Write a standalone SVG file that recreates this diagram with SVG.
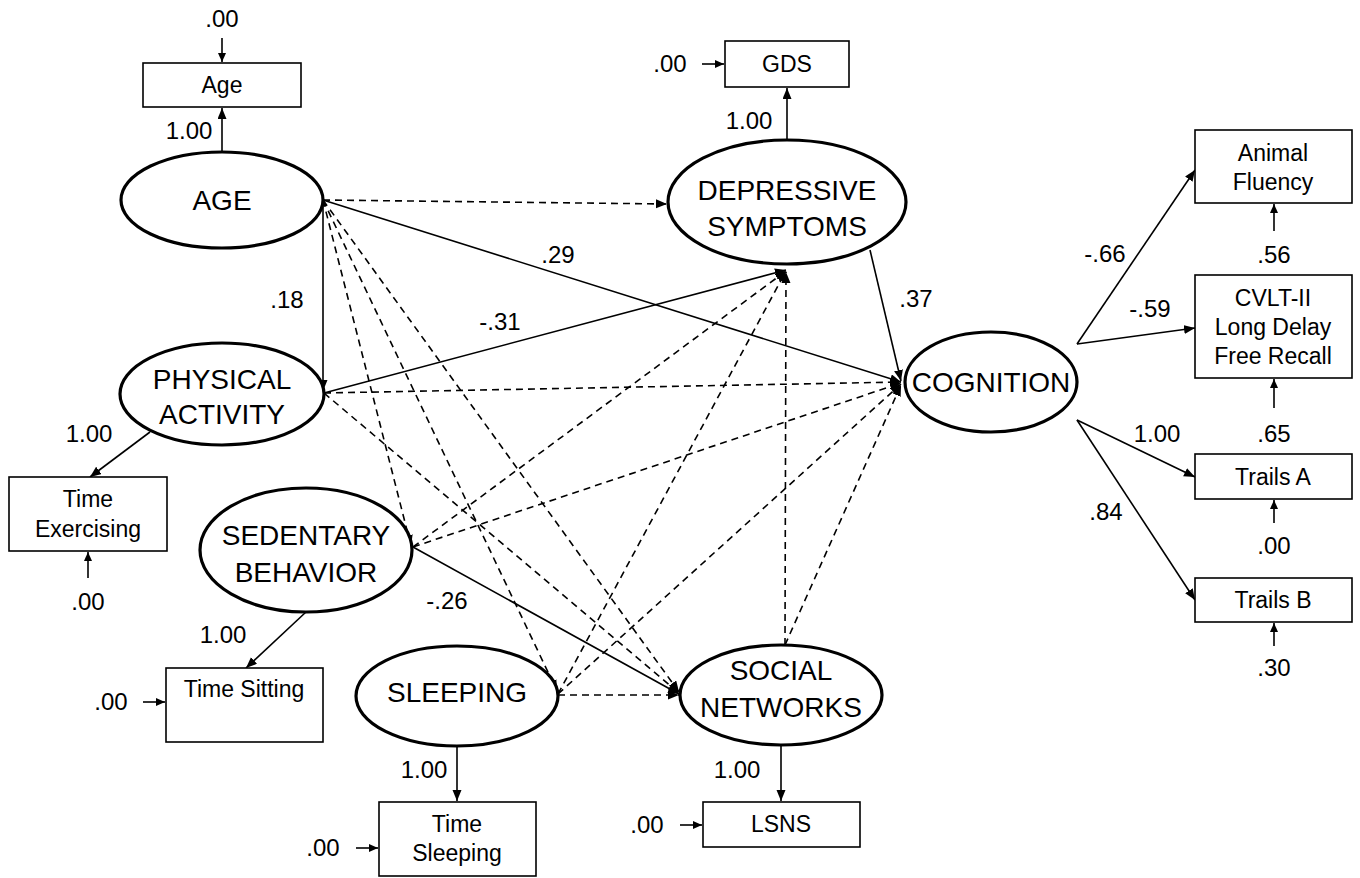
<svg xmlns="http://www.w3.org/2000/svg" width="1360" height="878" viewBox="0 0 1360 878">
<defs>
<marker id="ah" markerUnits="userSpaceOnUse" markerWidth="12" markerHeight="10" refX="11" refY="4.5" orient="auto">
<path d="M0,0 L11,4.5 L0,9 z" fill="#000"/>
</marker>
<marker id="ahs" markerUnits="userSpaceOnUse" markerWidth="10" markerHeight="8" refX="9" refY="4" orient="auto">
<path d="M0,0 L9,4 L0,8 z" fill="#000"/>
</marker>
<style>
text{font-family:"Liberation Sans",Arial,sans-serif;fill:#000;text-anchor:middle}
.lat{font-size:28px}
.box{font-size:23px}
.num{font-size:24px}
ellipse{fill:#fff;stroke:#000;stroke-width:3.2}
rect{fill:#fff;stroke:#000;stroke-width:1.6}
.s{stroke:#000;stroke-width:1.6;fill:none;marker-end:url(#ah)}
.d{stroke:#000;stroke-width:1.6;fill:none;stroke-dasharray:7 5;marker-end:url(#ah)}
.e{stroke:#000;stroke-width:1.6;fill:none;marker-end:url(#ahs)}
</style>
</defs>
<rect x="0" y="0" width="1360" height="878" style="fill:#fff;stroke:none"/>

<g id="connectors">
<!-- structural paths -->
<line class="d" x1="323" y1="200" x2="667" y2="204"/>
<line class="s" x1="323" y1="200" x2="901" y2="382"/>
<line class="s" x1="323" y1="200" x2="323" y2="391"/>
<line class="d" x1="323" y1="200" x2="411" y2="546"/>
<line class="d" x1="323" y1="200" x2="557" y2="691"/>
<line class="d" x1="323" y1="200" x2="679" y2="692"/>
<line class="s" x1="324" y1="393" x2="786" y2="270"/>
<line class="d" x1="324" y1="393" x2="901" y2="382"/>
<line class="d" x1="324" y1="393" x2="679" y2="693"/>
<line class="d" x1="413" y1="547" x2="786" y2="271"/>
<line class="d" x1="413" y1="547" x2="901" y2="383"/>
<line class="s" x1="413" y1="547" x2="679" y2="694"/>
<line class="d" x1="558" y1="694" x2="786" y2="271"/>
<line class="d" x1="558" y1="694" x2="901" y2="384"/>
<line class="d" x1="558" y1="695" x2="679" y2="695"/>
<line class="d" x1="785" y1="645" x2="786" y2="272"/>
<line class="d" x1="785" y1="645" x2="901" y2="385"/>
<line class="s" x1="870" y1="250" x2="901" y2="381"/>
<!-- measurement paths -->
<line class="s" x1="222" y1="152" x2="222" y2="108"/>
<line class="e" x1="222" y1="38" x2="222" y2="62"/>
<line class="s" x1="787" y1="140" x2="787" y2="88"/>
<line class="e" x1="702" y1="64" x2="724" y2="64"/>
<line class="s" x1="1077" y1="344" x2="1195" y2="170"/>
<line class="s" x1="1077" y1="344" x2="1195" y2="328"/>
<line class="s" x1="1077" y1="420" x2="1195" y2="477"/>
<line class="s" x1="1077" y1="420" x2="1195" y2="600"/>
<line class="e" x1="1274" y1="231" x2="1274" y2="204"/>
<line class="e" x1="1274" y1="408" x2="1274" y2="379"/>
<line class="e" x1="1274" y1="523" x2="1274" y2="500"/>
<line class="e" x1="1274" y1="646" x2="1274" y2="623"/>
<line class="s" x1="150" y1="432" x2="90" y2="477"/>
<line class="e" x1="88" y1="578" x2="88" y2="552"/>
<line class="s" x1="306" y1="612" x2="246" y2="668"/>
<line class="e" x1="143" y1="702" x2="165" y2="702"/>
<line class="s" x1="457" y1="747" x2="457" y2="801"/>
<line class="e" x1="356" y1="848" x2="378" y2="848"/>
<line class="s" x1="781" y1="746" x2="781" y2="801"/>
<line class="e" x1="680" y1="825" x2="702" y2="825"/>
</g>

<g id="labels">
<text class="num" x="287" y="308">.18</text>
<text class="num" x="558" y="263">.29</text>
<text class="num" x="500" y="330">-.31</text>
<text class="num" x="447" y="609">-.26</text>
<text class="num" x="916" y="307">.37</text>
<text class="num" x="1105" y="262">-.66</text>
<text class="num" x="1150" y="317">-.59</text>
<text class="num" x="1157" y="442">1.00</text>
<text class="num" x="1106" y="520">.84</text>
</g>

<g id="age-ind">
<text class="num" x="222" y="27">.00</text>
<rect x="143" y="63" width="158" height="44"/>
<text class="box" x="222" y="93">Age</text>
<text class="num" x="189" y="139">1.00</text>
</g>
<g id="AGE">
<ellipse cx="222" cy="200" rx="101" ry="48"/>
<text class="lat" x="222" y="210">AGE</text>
</g>

<g id="gds">
<text class="num" x="670" y="72">.00</text>
<rect x="725" y="41" width="124" height="46"/>
<text class="box" x="787" y="72">GDS</text>
<text class="num" x="749" y="129">1.00</text>
</g>
<g id="DEP">
<ellipse cx="787" cy="202" rx="119" ry="62"/>
<text class="lat" x="787" y="200">DEPRESSIVE</text>
<text class="lat" x="787" y="236">SYMPTOMS</text>
</g>

<g id="COG">
<ellipse cx="991" cy="382" rx="86" ry="50"/>
<text class="lat" x="991" y="392">COGNITION</text>
</g>

<g id="animal">
<rect x="1195" y="130" width="157" height="73"/>
<text class="box" x="1273" y="161">Animal</text>
<text class="box" x="1273" y="190">Fluency</text>
<text class="num" x="1274" y="263">.56</text>
</g>
<g id="cvlt">
<rect x="1195" y="275" width="157" height="103"/>
<text class="box" x="1273" y="306">CVLT-II</text>
<text class="box" x="1273" y="335">Long Delay</text>
<text class="box" x="1273" y="364">Free Recall</text>
<text class="num" x="1274" y="442">.65</text>
</g>
<g id="trailsA">
<rect x="1195" y="454" width="157" height="45"/>
<text class="box" x="1273" y="485">Trails A</text>
<text class="num" x="1274" y="554">.00</text>
</g>
<g id="trailsB">
<rect x="1195" y="578" width="157" height="44"/>
<text class="box" x="1273" y="608">Trails B</text>
<text class="num" x="1274" y="676">.30</text>
</g>

<g id="PA">
<ellipse cx="222" cy="394" rx="102" ry="51"/>
<text class="lat" x="222" y="389">PHYSICAL</text>
<text class="lat" x="222" y="424">ACTIVITY</text>
</g>
<g id="exercising">
<text class="num" x="89" y="442">1.00</text>
<rect x="9" y="477" width="158" height="74"/>
<text class="box" x="88" y="507">Time</text>
<text class="box" x="88" y="537">Exercising</text>
<text class="num" x="88" y="610">.00</text>
</g>

<g id="SB">
<ellipse cx="306" cy="550" rx="106" ry="62"/>
<text class="lat" x="306" y="545">SEDENTARY</text>
<text class="lat" x="306" y="582">BEHAVIOR</text>
</g>
<g id="sitting">
<text class="num" x="223" y="643">1.00</text>
<rect x="166" y="668" width="157" height="74"/>
<text class="box" x="244" y="697">Time Sitting</text>
<text class="num" x="111" y="710">.00</text>
</g>

<g id="SLEEP">
<ellipse cx="457" cy="696" rx="101" ry="50"/>
<text class="lat" x="457" y="702">SLEEPING</text>
</g>
<g id="sleeping">
<text class="num" x="424" y="778">1.00</text>
<rect x="379" y="802" width="157" height="74"/>
<text class="box" x="457" y="832">Time</text>
<text class="box" x="457" y="861">Sleeping</text>
<text class="num" x="323" y="856">.00</text>
</g>

<g id="SN">
<ellipse cx="781" cy="695" rx="101" ry="50"/>
<text class="lat" x="781" y="680">SOCIAL</text>
<text class="lat" x="781" y="717">NETWORKS</text>
</g>
<g id="lsns">
<text class="num" x="737" y="778">1.00</text>
<rect x="703" y="802" width="157" height="45"/>
<text class="box" x="781" y="832">LSNS</text>
<text class="num" x="647" y="833">.00</text>
</g>
</svg>
